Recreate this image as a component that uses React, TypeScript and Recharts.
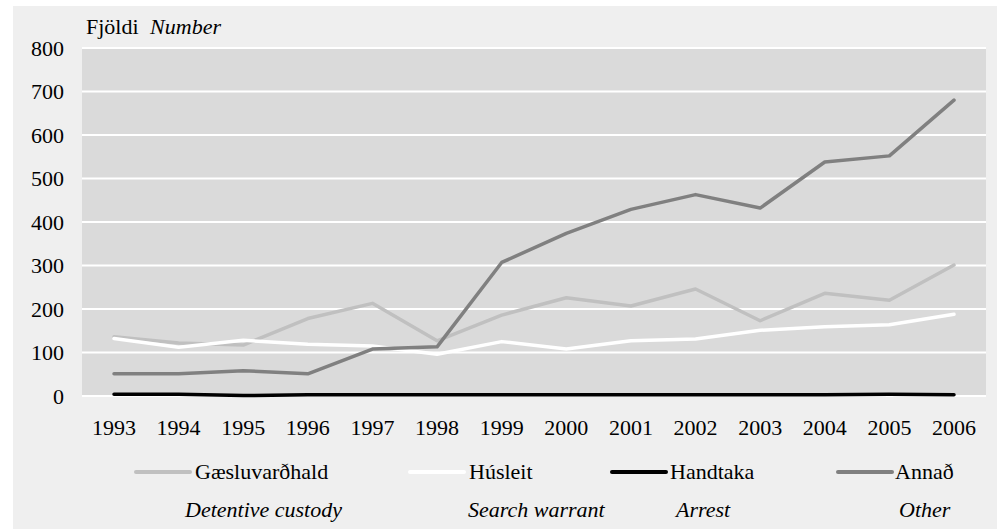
import { CartesianGrid, Line, LineChart, XAxis, YAxis } from "recharts";

const years = ["1993", "1994", "1995", "1996", "1997", "1998", "1999", "2000", "2001", "2002", "2003", "2004", "2005", "2006"];
const gaesluvardhald = [136, 122, 117, 178, 213, 127, 186, 226, 207, 246, 173, 236, 220, 301];
const husleit = [132, 112, 128, 119, 115, 96, 125, 108, 127, 131, 151, 159, 164, 188];
const handtaka = [4, 4, 1, 3, 3, 3, 3, 3, 3, 3, 3, 3, 4, 3];
const annad = [51, 51, 58, 51, 108, 113, 307, 374, 429, 463, 432, 538, 552, 680];
const yTicks = [0, 100, 200, 300, 400, 500, 600, 700, 800];

const series = [
  { key: "g", name: "Gæsluvarðhald", en: "Detentive custody", values: gaesluvardhald, color: "#c0c0c0" },
  { key: "h", name: "Húsleit", en: "Search warrant", values: husleit, color: "#ffffff" },
  { key: "a", name: "Handtaka", en: "Arrest", values: handtaka, color: "#000000" },
  { key: "o", name: "Annað", en: "Other", values: annad, color: "#808080" },
];

const data = years.map((year, i) => {
  const row: Record<string, string | number> = { year };
  series.forEach((s) => (row[s.key] = s.values[i]));
  return row;
});

// legend slots (line start, text start, english start)
const legendPos = [
  { line: 121, text: 182, en: 172 },
  { line: 395, text: 456, en: 455 },
  { line: 597, text: 657, en: 663 },
  { line: 823, text: 882, en: 886 },
];

const serif = "'Liberation Serif', 'Times New Roman', Times, 'DejaVu Serif', serif";
const tickStyle = { fontSize: 22, fill: "#000", fontFamily: serif };

export default function App() {
  return (
    <div
      style={{
        position: "absolute",
        left: 0,
        top: 0,
        width: 1002,
        height: 529,
        background: "#fff",
        fontFamily: serif,
        color: "#000",
      }}
    >
      <div style={{ position: "absolute", left: 13, top: 6, width: 984, height: 523, background: "#efefef" }}>
        <LineChart width={984} height={523} data={data} margin={{ top: 42, right: 11, left: 0, bottom: 103 }}>
          <CartesianGrid fill="#dadada" stroke="#ffffff" strokeWidth={2} vertical={false} strokeOpacity={1} />
          <XAxis
            dataKey="year"
            height={30}
            axisLine={false}
            tickLine={false}
            tickSize={0}
            tickMargin={23}
            tick={tickStyle}
            interval={0}
            padding={{ left: 32, right: 32 }}
          />
          <YAxis
            width={69}
            domain={[0, 800]}
            ticks={yTicks}
            axisLine={false}
            tickLine={false}
            tickSize={0}
            tickMargin={18}
            tick={tickStyle}
          />
          {series.map((s) => (
            <Line
              key={s.key}
              dataKey={s.key}
              name={s.name}
              type="linear"
              stroke={s.color}
              strokeWidth={3.5}
              strokeLinecap="round"
              strokeLinejoin="round"
              dot={false}
              activeDot={false}
              isAnimationActive={false}
            />
          ))}
        </LineChart>

        <div style={{ position: "absolute", left: 73, top: 9, fontSize: 22, lineHeight: "24px", whiteSpace: "nowrap" }}>
          Fjöldi <span style={{ fontStyle: "italic", marginLeft: 6 }}>Number</span>
        </div>

        {series.map((s, i) => (
          <div key={s.key}>
            <div
              style={{
                position: "absolute",
                left: legendPos[i].line,
                top: 464,
                width: 58,
                height: 4,
                borderRadius: 2,
                background: s.color,
              }}
            />
            <div
              style={{
                position: "absolute",
                left: legendPos[i].text,
                top: 454,
                fontSize: 22,
                lineHeight: "24px",
                whiteSpace: "nowrap",
              }}
            >
              {s.name}
            </div>
            <div
              style={{
                position: "absolute",
                left: legendPos[i].en,
                top: 492,
                fontSize: 22,
                lineHeight: "24px",
                fontStyle: "italic",
                whiteSpace: "nowrap",
              }}
            >
              {s.en}
            </div>
          </div>
        ))}
      </div>
    </div>
  );
}
